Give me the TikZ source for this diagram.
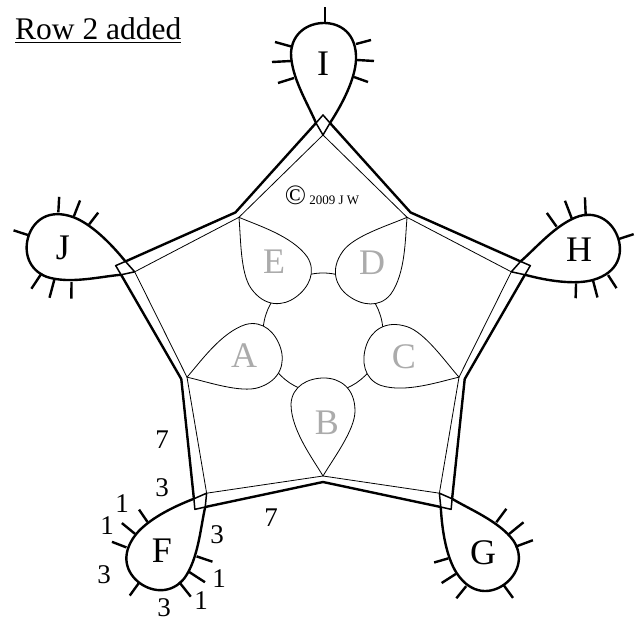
\documentclass[tikz,border=0pt]{standalone}
\usepackage{fontspec}
\setmainfont{Liberation Serif}
\usetikzlibrary{positioning,calc}

\newcommand{\sized}[1]{\fontsize{#1}{#1}\selectfont}

\begin{document}
\begin{tikzpicture}[x=1pt, y=1pt, line join=round]
\tikzstyle{thickline}=[line width=2.4pt]
\tikzstyle{thinline}=[line width=0.8pt]
\tikzstyle{kite}=[line width=1.5pt]
\tikzstyle{big}=[inner sep=0pt, font=\sized{36}]
\tikzstyle{faded}=[big, text=black!33]
\tikzstyle{num}=[inner sep=0pt, font=\sized{27}]
\useasboundingbox (0,0) rectangle (635,622);
\coordinate (O) at (323,289);

% ring behind the inner petals
\draw[thinline] (O) circle (60);

% each outer loop with its tick marks, and the inner petal beside it
\foreach \n/\a in {I/0, J/72, F/144, G/216, H/288} {
  \begin{scope}[shift={(O)}, rotate=\a]
    \coordinate (\n-t) at (0,198);
    \coordinate (\n-c) at (0,218);
    \coordinate (\n-l) at (-7,210);
    \coordinate (\n-r) at (7,210);
    \coordinate (\n-i) at (126:143);
    \coordinate (\n-o) at (126:149);
    \begin{scope}[shift={(0,208)}]
      \draw[thickline] (-7,2) .. controls (-15,21) and (-32,48) .. (-32,72)
        .. controls (-31,92) and (-15,102) .. (1,102)
        .. controls (17,102) and (34,92) .. (33,65)
        .. controls (32,46) and (20,22) .. (7,2);
      \foreach \p/\q in {{2,102}/{2,118}, {-30,78}/{-48,83}, {-32,64}/{-51,63},
          {-29,47}/{-45,42}, {33,81}/{48,85}, {34,65}/{51,64}, {31,48}/{45,43}}
        \draw[thickline] (\p) -- (\q);
    \end{scope}
    \begin{scope}[rotate=36, shift={(0,143)}, rotate=180]
      \draw[thinline, fill=white] (0,0) .. controls (-10,17) and (-32,46) .. (-32,72)
        .. controls (-31,90) and (-15,98) .. (1,98)
        .. controls (17,98) and (32,88) .. (32,65)
        .. controls (32,46) and (10,17) .. (0,0) -- cycle;
    \end{scope}
  \end{scope}
}

% outer star and inner star
\foreach \n/\m in {I/J, J/F, F/G, G/H, H/I} {
  \draw[thickline] (\n-l) -- (\n-o) -- (\m-r);
  \draw[thinline] (\n-t) -- (\n-i) -- (\m-t);
  \draw[kite] (\n-l) -- (\n-t) -- (\n-r) -- (\n-c) -- cycle;
}

\node[big] (lblI) at (323,558) {I};
\node[big] (lblJ) at (63,374) {J};
\node[big] (lblH) at (579,372) {H};
\node[big] (lblF) at (162,71) {F};
\node[big] (lblG) at (483,69) {G};

\node[faded] (lblA) at (244,266) {A};
\node[faded] (lblB) at (327,199) {B};
\node[faded] (lblC) at (404,265) {C};
\node[faded] (lblD) at (372,359) {D};
\node[faded] (lblE) at (274,360) {E};

\node[num] (sevenL) at (162,182) {7};
\node[num] (sevenB) at (271,104) {7};
\node[num] (threeA) at (162,134) {3};
\node[num] (oneA) at (122,118) {1};
\node[num] (oneB) at (107,96) {1};
\node[num] (threeB) at (104,47) {3};
\node[num] (threeC) at (164,14) {3};
\node[num] (oneC) at (201,21) {1};
\node[num] (oneD) at (219,43) {1};
\node[num] (threeD) at (217,87) {3};

\node[inner sep=0pt, anchor=base west, font=\sized{31.5}] (title) at (15,582) {\underline{Row 2 added}};
\node[inner sep=0pt, font=\sized{13}] (mark) at (322,427) {{\sized{28}©} 2009 J W};
\end{tikzpicture}
\end{document}
